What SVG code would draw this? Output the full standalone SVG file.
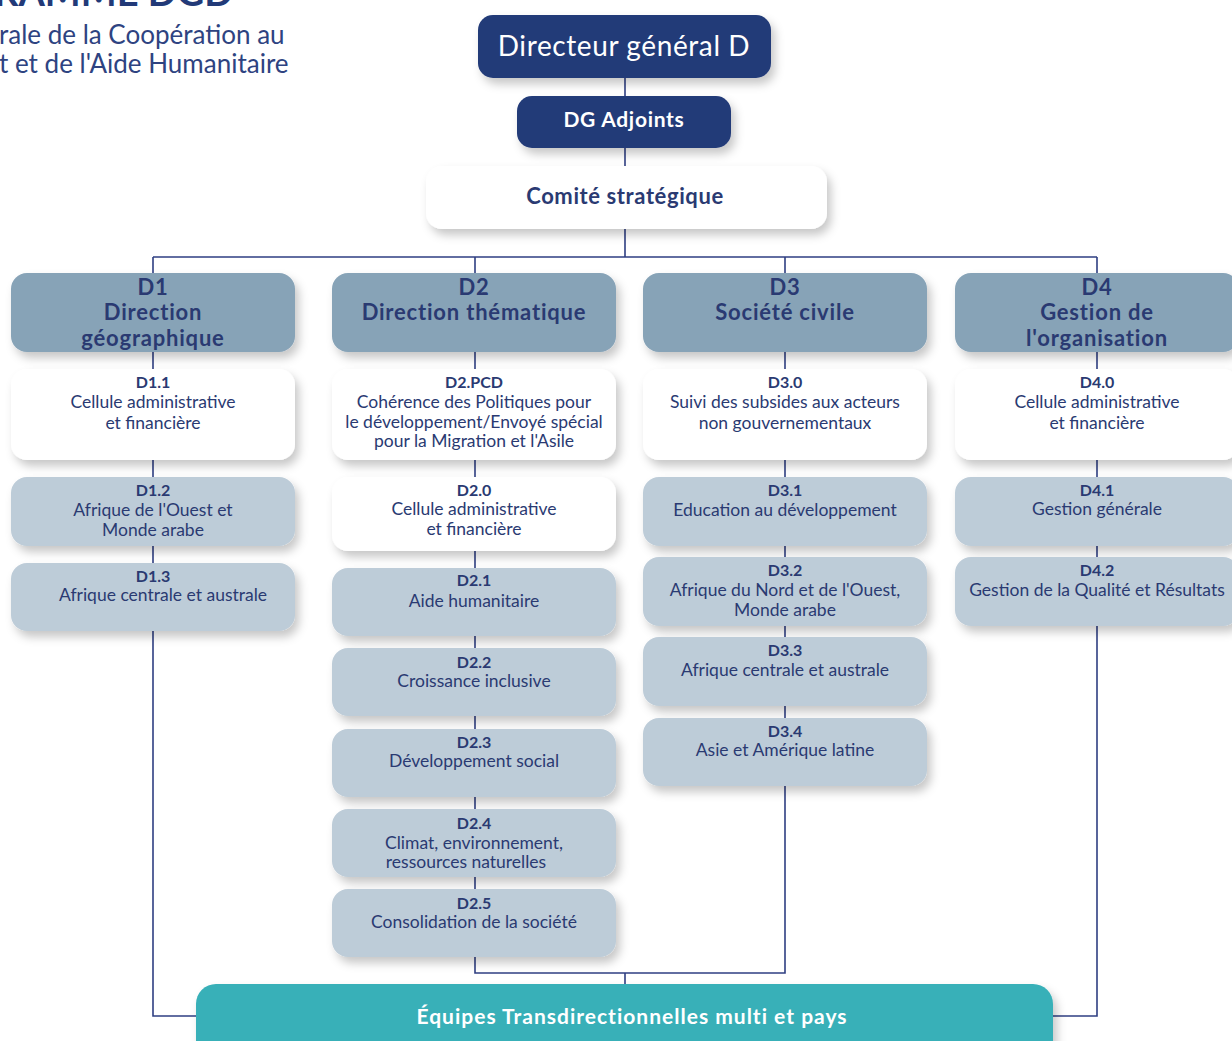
<svg xmlns="http://www.w3.org/2000/svg" width="1232" height="1041" viewBox="0 0 1232 1041">
<defs>
<filter id="sh" x="-20%" y="-30%" width="140%" height="170%">
<feDropShadow dx="4" dy="6" stdDeviation="5" flood-color="#000" flood-opacity="0.22"/>
</filter>
</defs>
<style>
text{font-family:Lato,"Open Sans","Liberation Sans",sans-serif;text-anchor:middle;fill:#2a3a72}
.dark rect{fill:#223a78}
.dark text{fill:#fff}
.hdr rect{fill:#87a3b7}
.wht rect{fill:#fff}
.lt rect{fill:#bdccd8}
rect{filter:url(#sh)}
.h{font-size:22px;font-weight:bold;letter-spacing:0.8px}
.lb{font-size:16px;font-weight:bold}
.b{font-size:17.5px}
.con{fill:none;stroke:#2f3f82;stroke-width:1.6}
.ttl{text-anchor:start;fill:#2e4381}
</style>
<rect width="1232" height="1041" fill="#fff" style="filter:none"/>
<g id="title">
<text class="ttl" x="-6" y="6" style="font-size:38px;font-weight:bold;fill:#223a78">RAMME DGD</text>
<text class="ttl" x="-1" y="44" style="font-size:26px">rale de la Coopération au</text>
<text class="ttl" x="-1" y="73" style="font-size:26px">t et de l'Aide Humanitaire</text>
</g>
<g id="connectors" class="con">
<path d="M625 78V96M625 148V166M625 229V257M153 257H1097M153 257V273M475 257V273M785 257V273M1097 257V273"/>
<path d="M153 352V1016H197M1097 352V1016H1053"/>
<path d="M475 352V957V973H785V352M625 973V984"/>
</g>
<g id="dg" class="dark"><rect x="478" y="15" width="293" height="63" rx="15"/><text x="624" y="56" style="font-size:28px;letter-spacing:0.6px">Directeur général D</text></g>
<g id="dga" class="dark"><rect x="517" y="96" width="214" height="52" rx="15"/><text x="624" y="127" style="font-size:21px;font-weight:bold;letter-spacing:0.7px">DG Adjoints</text></g>
<g id="comite" class="wht"><rect x="426" y="166" width="401" height="63" rx="16"/><text x="625" y="204" style="font-size:22px;font-weight:bold;letter-spacing:0.6px">Comité stratégique</text></g>

<g id="d1" class="hdr"><rect x="11" y="273" width="284" height="79" rx="16"/><text class="h" x="153" y="295">D1</text><text class="h" x="153" y="320">Direction</text><text class="h" x="153" y="346">géographique</text></g>
<g id="d2" class="hdr"><rect x="332" y="273" width="284" height="79" rx="16"/><text class="h" x="474" y="295">D2</text><text class="h" x="474" y="320">Direction thématique</text></g>
<g id="d3" class="hdr"><rect x="643" y="273" width="284" height="79" rx="16"/><text class="h" x="785" y="295">D3</text><text class="h" x="785" y="320">Société civile</text></g>
<g id="d4" class="hdr"><rect x="955" y="273" width="284" height="79" rx="16"/><text class="h" x="1097" y="295">D4</text><text class="h" x="1097" y="320">Gestion de</text><text class="h" x="1097" y="346">l'organisation</text></g>

<g id="d11" class="wht"><rect x="11" y="369" width="284" height="91" rx="16"/><text class="lb" x="153" y="388">D1.1</text><text class="b" x="153" y="408">Cellule administrative</text><text class="b" x="153" y="429">et financière</text></g>
<g id="d2pcd" class="wht"><rect x="332" y="369" width="284" height="91" rx="16"/><text class="lb" x="474" y="388">D2.PCD</text><text class="b" x="474" y="408">Cohérence des Politiques pour</text><text class="b" x="474" y="428">le développement/Envoyé spécial</text><text class="b" x="474" y="447">pour la Migration et l'Asile</text></g>
<g id="d30" class="wht"><rect x="643" y="369" width="284" height="91" rx="16"/><text class="lb" x="785" y="388">D3.0</text><text class="b" x="785" y="408">Suivi des subsides aux acteurs</text><text class="b" x="785" y="429">non gouvernementaux</text></g>
<g id="d40" class="wht"><rect x="955" y="369" width="284" height="91" rx="16"/><text class="lb" x="1097" y="388">D4.0</text><text class="b" x="1097" y="408">Cellule administrative</text><text class="b" x="1097" y="429">et financière</text></g>

<g id="d12" class="lt"><rect x="11" y="477" width="284" height="69" rx="16"/><text class="lb" x="153" y="496">D1.2</text><text class="b" x="153" y="516">Afrique de l'Ouest et</text><text class="b" x="153" y="536">Monde arabe</text></g>
<g id="d13" class="lt"><rect x="11" y="563" width="284" height="68" rx="16"/><text class="lb" x="153" y="582">D1.3</text><text class="b" x="163" y="601">Afrique centrale et australe</text></g>

<g id="d20" class="wht"><rect x="332" y="477" width="284" height="74" rx="16"/><text class="lb" x="474" y="496">D2.0</text><text class="b" x="474" y="515">Cellule administrative</text><text class="b" x="474" y="535">et financière</text></g>
<g id="d21" class="lt"><rect x="332" y="568" width="284" height="68" rx="16"/><text class="lb" x="474" y="586">D2.1</text><text class="b" x="474" y="607">Aide humanitaire</text></g>
<g id="d22" class="lt"><rect x="332" y="648" width="284" height="68" rx="16"/><text class="lb" x="474" y="668">D2.2</text><text class="b" x="474" y="687">Croissance inclusive</text></g>
<g id="d23" class="lt"><rect x="332" y="729" width="284" height="68" rx="16"/><text class="lb" x="474" y="748">D2.3</text><text class="b" x="474" y="767">Développement social</text></g>
<g id="d24" class="lt"><rect x="332" y="809" width="284" height="68" rx="16"/><text class="lb" x="474" y="829">D2.4</text><text class="b" x="474" y="849">Climat, environnement,</text><text class="b" x="466" y="868">ressources naturelles</text></g>
<g id="d25" class="lt"><rect x="332" y="889" width="284" height="68" rx="16"/><text class="lb" x="474" y="909">D2.5</text><text class="b" x="474" y="928">Consolidation de la société</text></g>

<g id="d31" class="lt"><rect x="643" y="477" width="284" height="69" rx="16"/><text class="lb" x="785" y="496">D3.1</text><text class="b" x="785" y="516">Education au développement</text></g>
<g id="d32" class="lt"><rect x="643" y="557" width="284" height="69" rx="16"/><text class="lb" x="785" y="576">D3.2</text><text class="b" x="785" y="596">Afrique du Nord et de l'Ouest,</text><text class="b" x="785" y="616">Monde arabe</text></g>
<g id="d33" class="lt"><rect x="643" y="637" width="284" height="69" rx="16"/><text class="lb" x="785" y="656">D3.3</text><text class="b" x="785" y="676">Afrique centrale et australe</text></g>
<g id="d34" class="lt"><rect x="643" y="718" width="284" height="68" rx="16"/><text class="lb" x="785" y="737">D3.4</text><text class="b" x="785" y="756">Asie et Amérique latine</text></g>

<g id="d41" class="lt"><rect x="955" y="477" width="284" height="69" rx="16"/><text class="lb" x="1097" y="496">D4.1</text><text class="b" x="1097" y="515">Gestion générale</text></g>
<g id="d42" class="lt"><rect x="955" y="557" width="284" height="69" rx="16"/><text class="lb" x="1097" y="576">D4.2</text><text class="b" x="1097" y="596">Gestion de la Qualité et Résultats</text></g>

<g id="equipes"><rect x="196" y="984" width="857" height="80" rx="20" style="fill:#38b0b8"/><text x="632" y="1024" style="font-size:21px;font-weight:bold;fill:#fff;letter-spacing:1px">Équipes Transdirectionnelles multi et pays</text></g>
</svg>
